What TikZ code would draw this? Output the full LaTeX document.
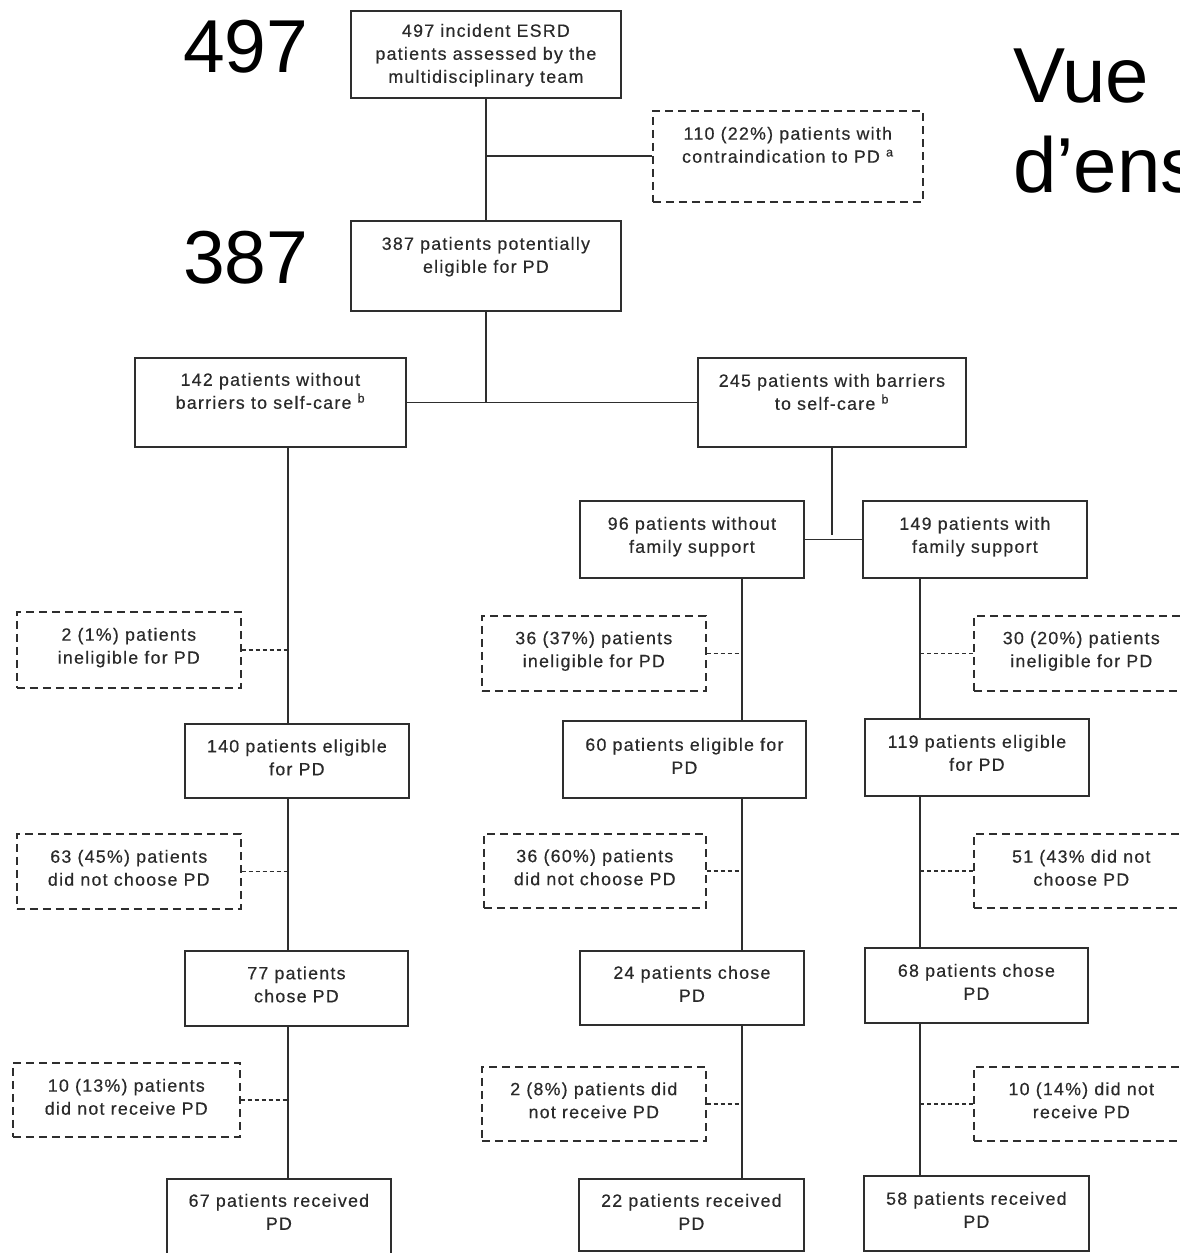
\documentclass[tikz,border=0pt]{standalone}
\usepackage{fontspec}
\setmainfont{Liberation Sans}
\newfontfamily\boxfont[LetterSpace=7,FakeBold=0.4]{Liberation Sans}
\definecolor{linec}{HTML}{2E2E2E}
\definecolor{textc}{HTML}{2A2A2A}
\newcommand{\bxt}[4]{\parbox[c][#2pt][t]{#1pt}{\centering\vspace*{#3pt}#4\par}}
\begin{document}
\begin{tikzpicture}[x=1pt,y=-1pt,
  box/.style={draw=linec, line width=1.8pt, inner sep=0pt, anchor=north west,
    font=\boxfont\fontsize{17.8}{23}\selectfont, text=textc},
  dbox/.style={box, line width=1.6pt, dash pattern=on 8pt off 5pt},
  con/.style={draw=linec, line width=1.8pt},
  dcon/.style={draw=linec, line width=1.6pt, dash pattern=on 4pt off 3pt},
  big/.style={font=\fontsize{75}{80}\selectfont, anchor=base west, inner sep=0pt, text=black},
  bigv/.style={font=\fontsize{78}{90}\selectfont, anchor=base west, inner sep=0pt, text=black}]
\useasboundingbox (0,0) rectangle (1180,1253);
\clip (0,0) rectangle (1180,1253);
\fill[white] (0,0) rectangle (1180,1253);

% big labels
\node[big] (l497) at (183,72) {497};
\node[big] (l387) at (183,283) {387};
\node[bigv] (vue) at (1013,102) {Vue};
\node[bigv] (dens) at (1013,192) {d’ens};

% column coordinates
\coordinate (cL) at (288,0);
\coordinate (cM) at (742,0);
\coordinate (cR) at (920,0);

% top part
\node[box] (n497) at (350,10) {\bxt{270}{87}{13}{497 incident ESRD\\patients assessed by the\\multidisciplinary team}};
\node[dbox] (d110) at (652,110) {\bxt{270}{91}{16}{110 (22\%) patients with\\contraindication to PD \textsuperscript{a}}};
\node[box] (n387) at (350,220) {\bxt{270}{90}{16}{387 patients potentially\\eligible for PD}};
\node[box] (n142) at (134,357) {\bxt{271}{89}{15}{142 patients without\\barriers to self-care \textsuperscript{b}}};
\node[box] (n245) at (697,357) {\bxt{268}{89}{16}{245 patients with barriers\\to self-care \textsuperscript{b}}};
\node[box] (n96) at (579,500) {\bxt{224}{77}{16}{96 patients without\\family support}};
\node[box] (n149) at (862,500) {\bxt{224}{77}{16}{149 patients with\\family support}};

% left column
\node[dbox] (d2) at (16,611) {\bxt{224}{76}{16}{2 (1\%) patients\\ineligible for PD}};
\node[box] (n140) at (184,723) {\bxt{224}{74}{15.5}{140 patients eligible\\for PD}};
\node[dbox] (d63) at (16,833) {\bxt{224}{75}{16}{63 (45\%) patients\\did not choose PD}};
\node[box] (n77) at (184,950) {\bxt{223}{75}{15.5}{77 patients\\chose PD}};
\node[dbox] (d10a) at (12,1062) {\bxt{227}{74}{16}{10 (13\%) patients\\did not receive PD}};
\node[box] (n67) at (166,1178) {\bxt{224}{80}{15}{67 patients received\\PD}};

% middle column
\node[dbox] (d36a) at (481,615) {\bxt{224}{75}{15.5}{36 (37\%) patients\\ineligible for PD}};
\node[box] (n60) at (562,720) {\bxt{243}{77}{17}{60 patients eligible for\\PD}};
\node[dbox] (d36b) at (483,833) {\bxt{222}{74}{15.5}{36 (60\%) patients\\did not choose PD}};
\node[box] (n24) at (579,950) {\bxt{224}{74}{15}{24 patients chose\\PD}};
\node[dbox] (d2b) at (481,1066) {\bxt{224}{74}{15.5}{2 (8\%) patients did\\not receive PD}};
\node[box] (n22) at (578,1178) {\bxt{225}{72}{15}{22 patients received\\PD}};

% right column
\node[dbox] (d30) at (973,615) {\bxt{215}{75}{15.5}{30 (20\%) patients\\ineligible for PD}};
\node[box] (n119) at (864,718) {\bxt{224}{77}{16}{119 patients eligible\\for PD}};
\node[dbox] (d51) at (973,833) {\bxt{215}{74}{16}{51 (43\% did not\\choose PD}};
\node[box] (n68) at (864,947) {\bxt{223}{75}{16}{68 patients chose\\PD}};
\node[dbox] (d10b) at (973,1066) {\bxt{215}{74}{15.5}{10 (14\%) did not\\receive PD}};
\node[box] (n58) at (863,1175) {\bxt{225}{75}{16}{58 patients received\\PD}};

% connectors top
\draw[con] (n497.south) -- (n387.north);
\draw[con] (n497.south |- d110.west) -- (d110.west);
\draw[con] (n387.south) -- (n387.south |- n142.east);
\draw[con] (n142.east) -- (n245.west);
\draw[con] (n245.south) -- ([yshift=4pt]n245.south |- n96.east);
\draw[con] (n96.east) -- (n149.west);

% column lines
\draw[con] (cL |- n142.south) -- (cL |- n140.north);
\draw[con] (cL |- n140.south) -- (cL |- n77.north);
\draw[con] (cL |- n77.south) -- (cL |- n67.north);
\draw[con] (cM |- n96.south) -- (cM |- n60.north);
\draw[con] (cM |- n60.south) -- (cM |- n24.north);
\draw[con] (cM |- n24.south) -- (cM |- n22.north);
\draw[con] (cR |- n149.south) -- (cR |- n119.north);
\draw[con] (cR |- n119.south) -- (cR |- n68.north);
\draw[con] (cR |- n68.south) -- (cR |- n58.north);

% dotted side connectors
\draw[dcon] (d2.east) -- (cL |- d2.east);
\draw[dcon] (d63.east) -- (cL |- d63.east);
\draw[dcon] (d10a.east) -- (cL |- d10a.east);
\draw[dcon] (d36a.east) -- (cM |- d36a.east);
\draw[dcon] (d36b.east) -- (cM |- d36b.east);
\draw[dcon] (d2b.east) -- (cM |- d2b.east);
\draw[dcon] (cR |- d30.west) -- (d30.west);
\draw[dcon] (cR |- d51.west) -- (d51.west);
\draw[dcon] (cR |- d10b.west) -- (d10b.west);
\end{tikzpicture}
\end{document}
